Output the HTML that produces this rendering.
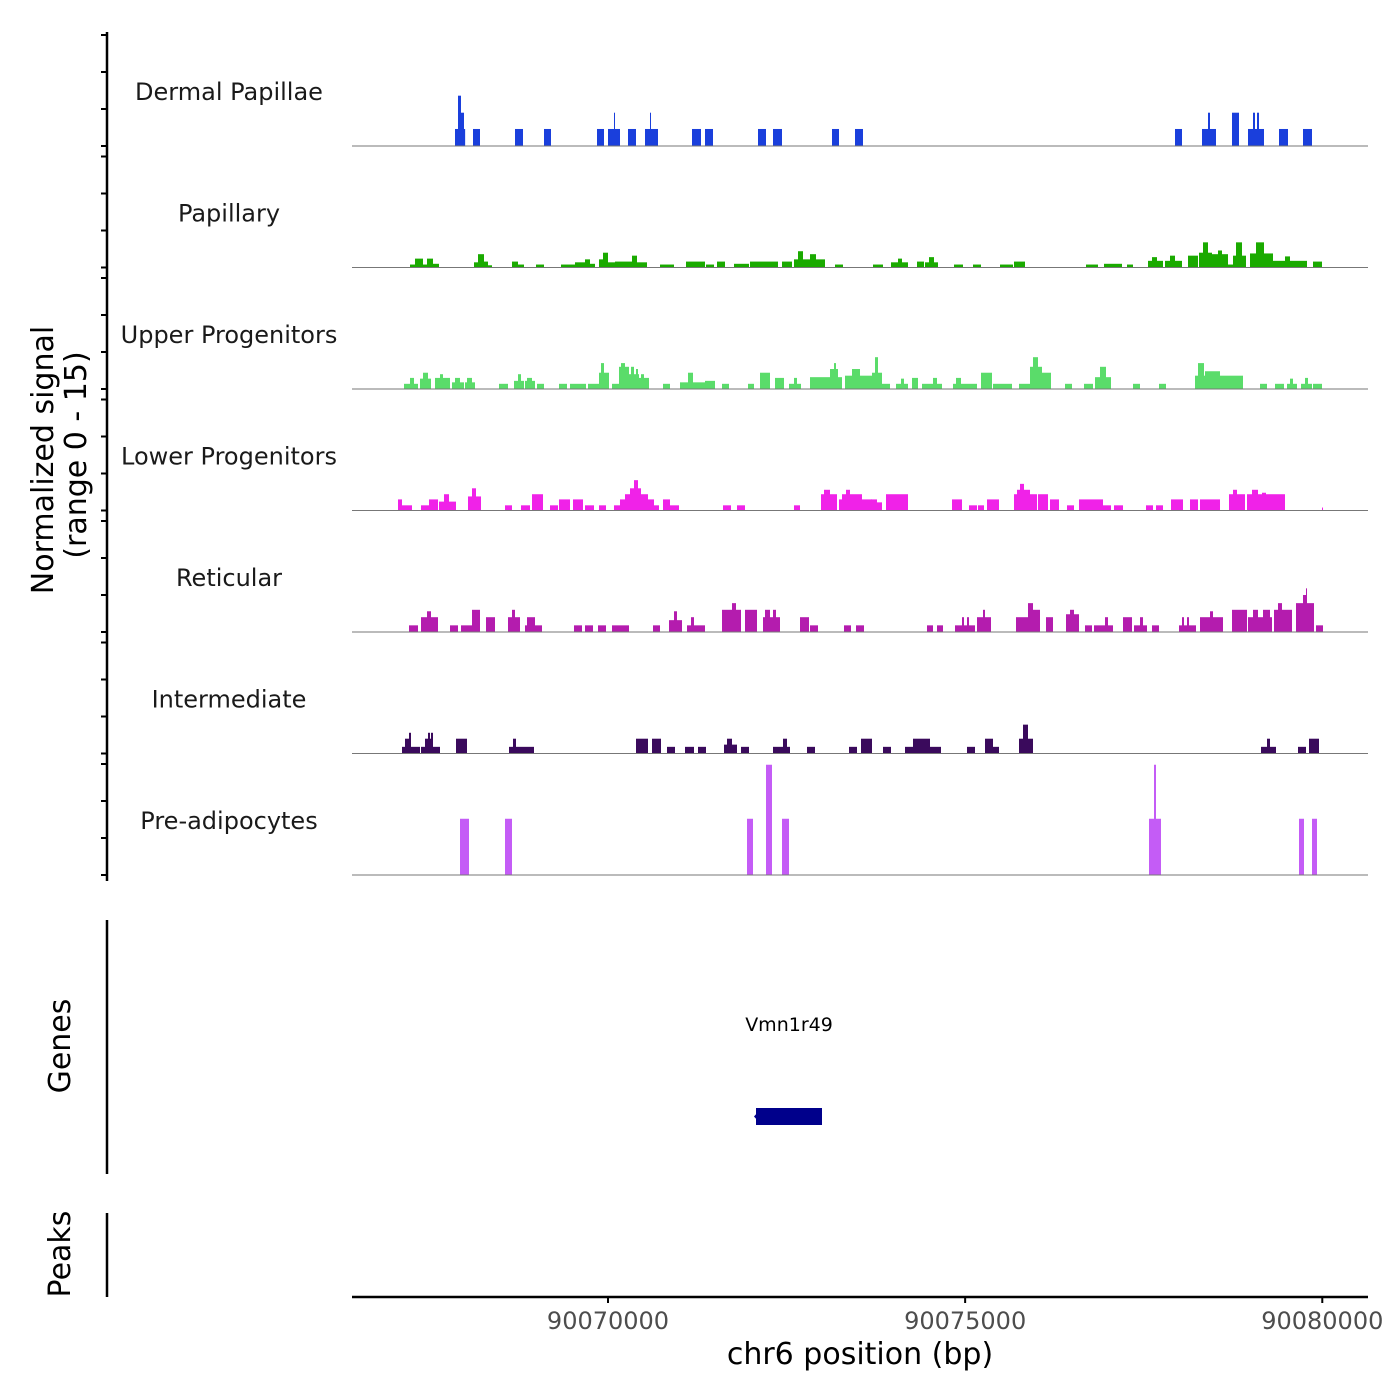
<!DOCTYPE html>
<html><head><meta charset="utf-8"><style>
html,body{margin:0;padding:0;background:#fff;}
svg{display:block;font-family:"DejaVu Sans","Liberation Sans",sans-serif;}
</style></head><body>
<svg id="chart" width="1400" height="1400" viewBox="0 0 1400 1400" xmlns="http://www.w3.org/2000/svg">
<rect x="0" y="0" width="1400" height="1400" fill="#fff"/>
<g id="tracks"></g>
<g id="axes"></g>
<text x="0" y="0" transform="translate(53,460) rotate(-90)" text-anchor="middle" font-size="30" fill="#000">Normalized signal</text>
<text x="0" y="0" transform="translate(86,455) rotate(-90)" text-anchor="middle" font-size="30" fill="#000">(range 0 - 15)</text>
<text x="0" y="0" transform="translate(70,1046) rotate(-90)" text-anchor="middle" font-size="30" fill="#000">Genes</text>
<text x="0" y="0" transform="translate(70,1254) rotate(-90)" text-anchor="middle" font-size="30" fill="#000">Peaks</text>
<text x="860" y="1364" text-anchor="middle" font-size="30" fill="#000">chr6 position (bp)</text>
</svg>
<script>
const trackNames = ["Dermal Papillae","Papillary","Upper Progenitors","Lower Progenitors","Reticular","Intermediate","Pre-adipocytes"];
const trackColors = ["#1a3fdc","#1aaa00","#5adc6a","#f022e8","#b41cae","#3a0a5c","#c45cf6"];
const xTicks = [90070000, 90075000, 90080000];
const yTicks = [0, 5, 10, 15];
const geneNames = ["Vmn1r49"];
const geneStarts = [90072072];
const geneEnds = [90072996];

const dermalPapillae = [[90067858,90068000,2.3],[90067900,90067942,6.8],[90067942,90067984,4.5],
[90068110,90068208,2.3],[90068698,90068810,2.3],[90069104,90069202,2.3],[90069846,90069944,2.3],
[90070000,90070168,2.3],[90070084,90070098,4.5],
[90070280,90070392,2.3],[90070518,90070700,2.3],[90070588,90070602,4.5],
[90071176,90071302,2.3],[90071358,90071470,2.3],[90072100,90072212,2.3],[90072310,90072436,2.3],
[90073136,90073234,2.3],[90073458,90073570,2.3],[90077938,90078036,2.3],
[90078316,90078512,2.3],[90078400,90078428,4.5],
[90078736,90078834,4.5],
[90078960,90079184,2.3],[90079030,90079058,4.5],[90079086,90079114,4.5],
[90079394,90079520,2.3],[90079730,90079856,2.3]];

const papillary = [[90067228,90067298,0.4],[90067298,90067410,1.2],[90067410,90067466,0.4],[90067466,90067550,1.2],[90067550,90067634,0.5],
[90068124,90068180,0.7],[90068180,90068264,1.8],[90068264,90068320,0.8],[90068320,90068376,0.3],
[90068656,90068740,0.8],[90068740,90068824,0.4],
[90068992,90069104,0.4],
[90069342,90069538,0.4],[90069538,90069678,0.7],[90069678,90069748,1.1],[90069748,90069818,0.5],
[90069874,90069930,1.1],[90069930,90070000,2.0],[90070000,90070098,0.7],[90070098,90070336,0.8],[90070336,90070406,1.6],[90070406,90070546,0.7],
[90070728,90070924,0.4],
[90071092,90071358,0.8],[90071372,90071484,0.4],[90071526,90071638,0.8],
[90071764,90071974,0.5],[90071988,90072380,0.8],[90072436,90072576,0.8],
[90072604,90073038,1.1],[90072660,90072730,2.2],[90072828,90072912,1.8],
[90073178,90073290,0.4],
[90073710,90073850,0.4],
[90073962,90074200,0.7],[90074060,90074116,1.2],
[90074326,90074424,0.8],
[90074438,90074620,0.7],[90074494,90074564,1.4],
[90074844,90074970,0.4],[90075110,90075222,0.4],[90075488,90075670,0.4],[90075684,90075838,0.8],
[90076692,90076860,0.4],[90076944,90077196,0.5],[90077266,90077350,0.4],
[90077560,90077770,0.9],[90077616,90077686,1.4],
[90077798,90078036,0.9],[90077868,90077938,1.6],
[90078120,90078260,1.6],
[90078274,90078456,2.0],[90078330,90078400,3.4],
[90078456,90078680,1.8],[90078540,90078596,2.3],
[90078680,90078750,0.4],
[90078750,90078932,1.6],[90078792,90078876,3.4],
[90078988,90079310,1.9],[90079072,90079184,3.4],
[90079310,90079786,0.9],[90079478,90079548,1.5],
[90079870,90079996,0.8]];

const upperProgenitors = [[90067144,90067340,0.7],[90067228,90067284,1.5],
[90067368,90067522,1.4],[90067410,90067480,2.2],
[90067578,90067788,1.5],[90067648,90067690,2.0],
[90067816,90067984,0.9],[90067858,90067928,1.5],
[90067998,90068138,0.9],[90068026,90068096,1.5],
[90068474,90068600,0.7],
[90068684,90068824,1.1],[90068740,90068782,2.0],
[90068838,90068978,1.1],[90068866,90068936,1.5],
[90069006,90069104,0.7],
[90069314,90069426,0.7],[90069468,90069692,0.7],[90069720,90069874,0.7],
[90069874,90070014,2.2],[90069902,90069944,3.5],
[90070056,90070154,0.7],
[90070154,90070294,3.0],[90070182,90070238,3.5],
[90070294,90070434,2.0],[90070322,90070364,3.0],[90070392,90070420,2.7],
[90070434,90070574,1.5],[90070462,90070504,2.0],
[90070770,90070868,0.7],
[90071008,90071358,0.9],[90071120,90071190,2.2],
[90071358,90071498,1.1],
[90071596,90071694,0.7],[90071960,90072044,0.7],
[90072128,90072268,2.2],[90072338,90072464,1.5],
[90072534,90072702,0.7],[90072604,90072646,1.5],
[90072828,90073276,1.6],[90073108,90073220,2.7],[90073164,90073192,3.5],
[90073318,90073696,1.8],[90073416,90073528,2.7],
[90073696,90073836,2.2],[90073738,90073780,4.3],
[90073836,90073948,0.7],
[90074032,90074200,0.7],[90074102,90074144,1.4],
[90074256,90074340,1.5],
[90074396,90074676,0.7],[90074550,90074606,1.5],
[90074830,90075166,0.7],[90074872,90074942,1.5],
[90075222,90075376,2.2],[90075390,90075656,0.7],[90075754,90075908,0.7],
[90075908,90076076,3.0],[90075950,90076020,4.3],
[90076076,90076202,2.2],
[90076398,90076496,0.7],[90076664,90076790,0.7],
[90076818,90077042,1.6],[90076888,90076972,3.0],
[90077350,90077448,0.7],[90077714,90077812,0.7],
[90078218,90078890,1.8],[90078260,90078344,3.5],[90078358,90078568,2.4],
[90079128,90079226,0.7],[90079338,90079464,0.7],
[90079506,90079646,0.7],[90079548,90079590,1.4],
[90079702,90079856,0.7],[90079758,90079800,1.5],
[90079870,90079996,0.7]];

const lowerProgenitors = [[90067060,90067116,1.5],[90067116,90067256,0.7],
[90067382,90067494,0.7],[90067494,90067620,1.5],
[90067634,90067872,1.2],[90067704,90067774,2.2],
[90068040,90068222,1.9],[90068096,90068152,3.0],
[90068558,90068656,0.7],[90068782,90068908,0.7],
[90068936,90069090,2.2],
[90069188,90069300,0.7],[90069314,90069468,1.5],[90069510,90069650,1.5],[90069678,90069804,0.7],[90069874,90069972,0.7],
[90070084,90070714,0.7],[90070168,90070644,1.5],[90070238,90070560,2.2],[90070308,90070462,3.0],[90070364,90070420,4.1],
[90070770,90070868,1.5],[90070868,90070994,0.7],
[90071610,90071722,0.7],[90071806,90071918,0.7],[90072604,90072688,0.7],
[90072982,90073206,2.2],[90073024,90073108,2.8],
[90073234,90073696,1.5],[90073276,90073556,2.2],[90073332,90073388,2.8],
[90073528,90073836,1.1],[90073682,90073766,1.5],
[90073892,90074200,2.2],
[90074816,90074956,1.5],[90075054,90075166,0.7],[90075180,90075264,0.7],[90075306,90075474,1.5],
[90075684,90076006,2.2],[90075726,90075908,2.8],[90075768,90075824,3.6],
[90076020,90076160,2.2],[90076188,90076314,1.5],[90076426,90076524,0.7],
[90076594,90076930,1.5],[90076930,90077042,0.7],[90077084,90077210,0.7],
[90077532,90077630,0.7],[90077672,90077770,0.7],
[90077882,90078050,1.5],[90078148,90078260,1.5],[90078288,90078568,1.5],
[90078694,90078918,2.2],[90078750,90078806,2.8],
[90078946,90079478,2.2],[90079016,90079100,2.8],[90079156,90079212,2.4],
[90079996,90080010,0.4]];

const reticular = [[90067214,90067340,0.9],
[90067382,90067620,2.0],[90067466,90067522,2.8],
[90067788,90067900,0.9],[90067942,90068096,0.9],[90068096,90068208,3.0],[90068292,90068418,2.0],
[90068600,90068768,2.0],[90068656,90068698,3.0],
[90068838,90069076,0.9],[90068866,90068978,2.0],
[90069524,90069636,0.9],[90069678,90069790,0.9],[90069860,90069972,0.9],[90070056,90070294,0.9],[90070630,90070728,0.9],
[90070854,90071036,1.6],[90070924,90070966,2.8],
[90071106,90071358,0.9],[90071162,90071204,2.0],
[90071596,90071862,3.0],[90071736,90071792,3.9],
[90071918,90072086,3.0],
[90072170,90072408,2.0],[90072198,90072268,3.0],[90072310,90072352,3.0],
[90072688,90072814,2.0],[90072828,90072940,0.9],[90073304,90073402,0.9],[90073472,90073584,0.9],
[90074466,90074550,0.9],[90074606,90074690,0.9],
[90074858,90075138,0.9],[90074956,90074984,2.0],[90075026,90075054,2.0],
[90075166,90075362,2.0],[90075250,90075278,3.0],
[90075712,90076048,2.0],[90075880,90075950,3.9],[90075950,90076048,3.0],
[90076132,90076230,2.0],
[90076412,90076594,2.4],[90076468,90076524,3.0],
[90076678,90076776,0.9],[90076804,90077070,0.9],[90076958,90077000,2.0],
[90077210,90077336,2.0],
[90077364,90077546,0.9],[90077448,90077490,2.0],
[90077616,90077714,0.9],
[90077994,90078232,0.9],[90078036,90078064,2.0],[90078106,90078134,2.0],
[90078288,90078610,2.0],[90078428,90078470,2.8],
[90078736,90078946,3.0],
[90078960,90079296,2.0],[90079030,90079100,3.0],[90079170,90079268,3.0],
[90079324,90079576,3.0],[90079380,90079436,3.9],
[90079632,90079884,3.9],[90079730,90079786,5.0],[90079772,90079786,5.9],
[90079912,90080010,0.9]];

const intermediate = [[90067116,90067368,0.9],[90067158,90067228,2.0],[90067214,90067242,2.8],
[90067382,90067648,0.9],[90067438,90067550,2.0],[90067480,90067508,2.8],[90067522,90067550,2.8],
[90067872,90068026,2.0],
[90068614,90068964,0.9],[90068670,90068712,2.0],
[90070392,90070560,2.0],[90070616,90070742,2.0],[90070826,90070938,0.9],[90071078,90071204,0.9],[90071260,90071372,0.9],
[90071624,90071806,1.2],[90071666,90071736,2.0],
[90071862,90071974,0.9],
[90072310,90072548,0.9],[90072450,90072506,2.0],
[90072786,90072898,0.9],[90073374,90073486,0.9],[90073542,90073696,2.0],[90073850,90073962,0.9],
[90074158,90074662,0.9],[90074270,90074508,2.0],
[90075026,90075138,0.9],
[90075278,90075474,0.9],[90075278,90075390,2.0],
[90075754,90075950,2.0],[90075810,90075880,3.9],
[90079142,90079352,0.9],[90079226,90079268,2.0],
[90079660,90079772,0.9],[90079814,90079954,2.0]];

const preAdipocytes = [[90067928,90068054,7.6],[90068558,90068656,7.6],[90071946,90072030,7.6],[90072212,90072296,14.9],[90072436,90072534,7.6],[90077574,90077742,7.6],[90077644,90077672,14.9],[90079674,90079744,7.6],[90079856,90079926,7.6]];

const trackData = [dermalPapillae, papillary, upperProgenitors, lowerProgenitors, reticular, intermediate, preAdipocytes];
const trackKeys = ["dermal-papillae","papillary","upper-progenitors","lower-progenitors","reticular","intermediate","pre-adipocytes"];

const NS = "http://www.w3.org/2000/svg";
const X0 = 352, X1 = 1368, BP0 = 90066416, BP1 = 90080640;
function xScale(bp){ return X0 + (bp - BP0) / (BP1 - BP0) * (X1 - X0); }
const BASE0 = 146, TRACK_STEP = 121.5, TRACK_H = 111, YMAX = 15;
function baseline(i){ return BASE0 + i * TRACK_STEP; }
function yScale(i, v){ return baseline(i) - v / YMAX * TRACK_H; }
function mk(tag, attrs, parent){ const e = document.createElementNS(NS, tag); for (const k in attrs) e.setAttribute(k, attrs[k]); parent.appendChild(e); return e; }

const tracksG = document.getElementById('tracks');
const axesG = document.getElementById('axes');

trackData.forEach((segs, i) => {
  const g = mk('g', {}, tracksG);
  
  
  segs.forEach(s => {
    const x1 = xScale(s[0]), x2 = xScale(s[1]);
    const yt = yScale(i, s[2]), yb = baseline(i);
    const r = mk('rect', {x: x1.toFixed(2), y: yt.toFixed(2), width: Math.max(0.8, x2 - x1).toFixed(2), height: (yb - yt).toFixed(2), fill: trackColors[i]}, g);
    
    
  });
  const bl = mk('line', {x1: X0, x2: X1, y1: baseline(i), y2: baseline(i), stroke: '#777', 'stroke-width': 1}, g);
  
  
  const lab = mk('text', {x: 229, y: baseline(i) - 46, 'text-anchor': 'middle', 'font-size': 24, fill: '#1a1a1a'}, tracksG);
  lab.textContent = trackNames[i];
  
  
  yTicks.forEach(t => {
    const ty = yScale(i, t);
    const tk = mk('line', {x1: 101, x2: 107, y1: ty, y2: ty, stroke: '#000', 'stroke-width': 2}, axesG);
    
    
  });
});

const ySpine = mk('line', {x1: 107, x2: 107, y1: 32, y2: 881, stroke: '#000', 'stroke-width': 2.5}, axesG);


const gSpine = mk('line', {x1: 107, x2: 107, y1: 920, y2: 1174, stroke: '#000', 'stroke-width': 2.5}, axesG);


const pSpine = mk('line', {x1: 107, x2: 107, y1: 1213, y2: 1297, stroke: '#000', 'stroke-width': 2.5}, axesG);


const xLine = mk('line', {x1: X0, x2: X1, y1: 1297, y2: 1297, stroke: '#000', 'stroke-width': 2.5}, axesG);



xTicks.forEach(t => {
  const tx = xScale(t);
  const tk = mk('line', {x1: tx, x2: tx, y1: 1297, y2: 1303, stroke: '#000', 'stroke-width': 2}, axesG);
  
  
  const tl = mk('text', {x: tx, y: 1329, 'text-anchor': 'middle', 'font-size': 24, fill: '#4d4d4d'}, axesG);
  tl.textContent = String(t);
  
  
});

geneNames.forEach((name, i) => {
  const gx1 = xScale(geneStarts[i]), gx2 = xScale(geneEnds[i]);
  const gr = mk('rect', {x: gx1, y: 1108, width: gx2 - gx1, height: 17, fill: '#00008b'}, tracksG);
  
  
  const ar = mk('polygon', {points: (gx1 - 2) + ',1116.5 ' + (gx1 + 2) + ',1112 ' + (gx1 + 2) + ',1121', fill: '#00008b'}, tracksG);
  
  
  const gl = mk('text', {x: (gx1 + gx2) / 2, y: 1031, 'text-anchor': 'middle', 'font-size': 19, fill: '#000'}, tracksG);
  gl.textContent = name;
  
  
});
</script>
</body></html>
